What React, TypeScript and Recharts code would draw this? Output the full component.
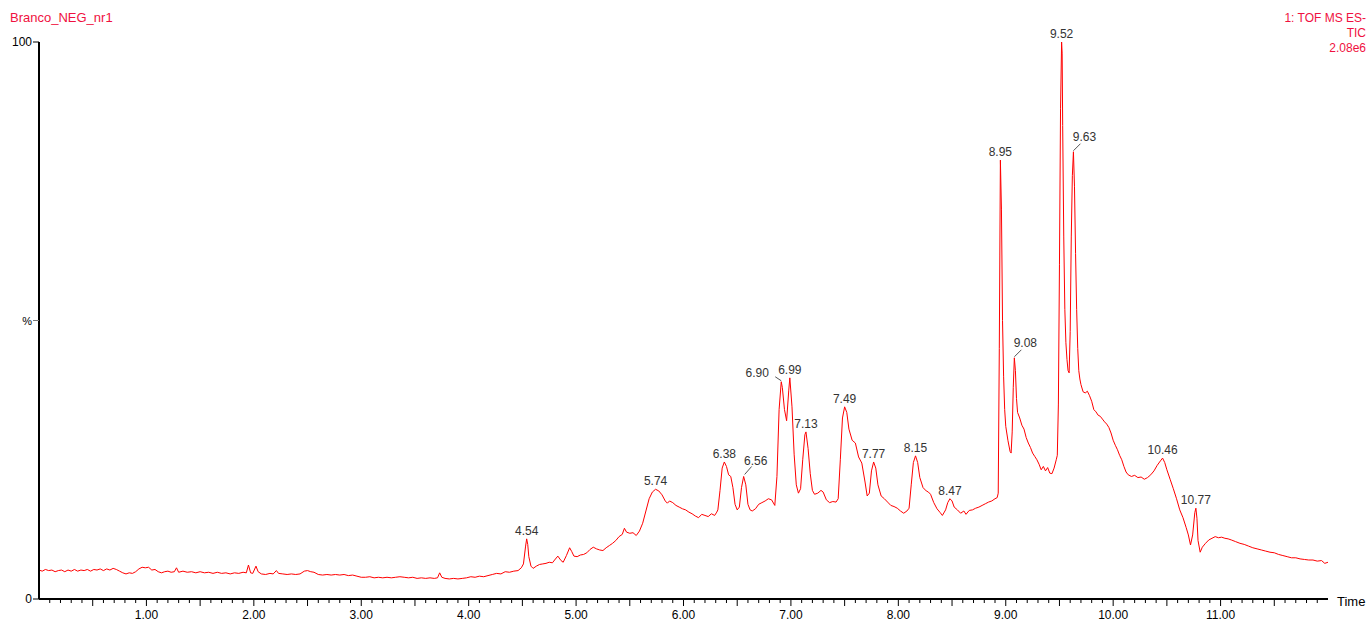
import React from 'react';
import { ComposedChart, Line, Scatter, XAxis, YAxis } from 'recharts';

const sampleName = 'Branco_NEG_nr1';
const traceInfo = ['1: TOF MS ES-', 'TIC', '2.08e6'];
const xAxisTitle = 'Time';
const yTicks = [0, 50, 100];
const yTickLabels: Record<number, string> = { 0: '0', 50: '%', 100: '100' };
const xMajorLabels = ['1.00', '2.00', '3.00', '4.00', '5.00', '6.00', '7.00', '8.00', '9.00', '10.00', '11.00'];

// TIC trace: [retention time (min), relative intensity (%)]
const tic: [number, number][] = [
  [0.00,5.2],[0.03,5.0],[0.06,5.3],[0.09,5.1],[0.12,5.2],[0.15,4.9],[0.18,5.1],[0.21,5.2],[0.24,4.9],[0.27,5.2],
  [0.30,5.0],[0.33,5.3],[0.36,5.0],[0.39,5.2],[0.42,5.1],[0.45,5.3],[0.48,5.0],[0.51,5.3],[0.54,5.2],[0.57,5.4],
  [0.60,5.1],[0.63,5.4],[0.66,5.2],[0.69,5.5],[0.72,5.3],[0.75,5.0],[0.78,4.7],[0.81,4.5],[0.84,4.7],[0.87,4.6],
  [0.90,4.9],[0.93,5.4],[0.96,5.7],[0.99,5.6],[1.02,5.7],[1.05,5.2],[1.08,5.3],[1.11,4.9],[1.14,4.7],[1.17,4.9],
  [1.20,5.0],[1.23,4.8],[1.26,4.9],[1.28,5.6],[1.30,4.8],[1.34,5.0],[1.38,4.8],[1.42,4.9],[1.46,4.7],[1.50,4.9],
  [1.54,4.7],[1.58,4.8],[1.62,4.6],[1.66,4.8],[1.70,4.6],[1.74,4.7],[1.78,4.5],[1.82,4.7],[1.86,4.6],[1.90,4.8],
  [1.93,4.7],[1.95,6.1],[1.97,4.7],[1.99,4.6],[2.02,5.9],[2.04,4.9],[2.07,4.5],[2.11,4.4],[2.15,4.6],[2.18,4.5],
  [2.21,5.1],[2.23,4.6],[2.27,4.5],[2.31,4.4],[2.35,4.5],[2.39,4.4],[2.43,4.5],[2.47,5.0],[2.50,5.1],[2.53,4.9],
  [2.56,4.8],[2.60,4.4],[2.64,4.3],[2.68,4.4],[2.72,4.3],[2.76,4.4],[2.80,4.3],[2.84,4.4],[2.88,4.2],[2.92,4.3],
  [2.96,4.1],[3.00,3.9],[3.04,3.9],[3.08,4.0],[3.12,3.8],[3.16,3.9],[3.20,3.8],[3.24,3.9],[3.28,3.8],[3.32,3.9],
  [3.36,4.0],[3.40,3.9],[3.44,3.8],[3.48,3.9],[3.52,3.7],[3.56,3.8],[3.60,3.7],[3.64,3.8],[3.68,3.7],[3.71,3.8],
  [3.73,4.7],[3.75,3.9],[3.78,3.7],[3.82,3.6],[3.86,3.7],[3.90,3.6],[3.94,3.7],[3.98,3.8],[4.02,4.0],[4.06,3.9],
  [4.10,4.1],[4.14,4.0],[4.18,4.2],[4.22,4.4],[4.26,4.6],[4.30,4.5],[4.34,4.9],[4.38,4.8],[4.42,5.0],[4.46,5.1],
  [4.49,5.6],[4.51,6.3],[4.53,9.5],[4.54,10.8],[4.55,9.8],[4.56,7.6],[4.58,5.9],[4.60,5.5],[4.63,5.9],[4.66,6.2],
  [4.69,6.3],[4.72,6.4],[4.75,6.6],[4.78,6.5],[4.80,7.0],[4.83,7.7],[4.86,6.9],[4.88,6.6],[4.91,7.8],[4.94,9.2],
  [4.96,8.5],[4.98,7.7],[5.01,7.6],[5.04,7.9],[5.07,8.0],[5.10,8.3],[5.13,8.9],[5.16,9.3],[5.19,9.0],[5.22,8.8],
  [5.25,8.7],[5.28,9.2],[5.31,9.6],[5.34,10.0],[5.37,10.5],[5.40,11.2],[5.43,11.6],[5.45,12.7],[5.47,12.0],[5.50,11.8],
  [5.53,11.9],[5.56,11.4],[5.59,12.2],[5.62,13.6],[5.65,15.8],[5.68,18.0],[5.71,19.2],[5.74,19.7],[5.77,19.4],[5.80,18.7],
  [5.83,17.6],[5.85,17.2],[5.87,17.6],[5.90,17.3],[5.93,16.8],[5.96,16.5],[5.99,16.2],[6.02,16.0],[6.05,15.6],[6.08,15.3],
  [6.11,14.9],[6.14,14.6],[6.17,15.2],[6.20,15.0],[6.23,14.8],[6.26,15.3],[6.29,15.0],[6.31,15.6],
  [6.32,16.0],[6.34,19.5],[6.36,23.5],[6.38,24.6],[6.40,23.8],[6.42,22.3],[6.44,22.0],[6.46,20.0],[6.48,17.0],[6.50,16.0],
  [6.52,16.5],[6.54,20.0],[6.56,22.0],[6.58,20.5],[6.60,17.0],[6.62,16.0],[6.64,15.8],[6.67,16.2],[6.70,17.0],[6.73,17.3],
  [6.76,17.6],[6.79,18.0],[6.82,17.8],[6.85,16.8],[6.87,22.0],[6.89,34.0],[6.91,39.0],[6.92,38.0],[6.94,34.0],[6.96,32.0],
  [6.98,37.5],[6.99,39.7],[7.01,34.5],[7.03,26.0],[7.05,20.5],[7.07,19.0],[7.09,19.8],[7.11,25.0],[7.13,29.5],[7.14,30.0],
  [7.16,27.0],[7.18,22.5],[7.20,19.5],[7.22,18.8],[7.25,19.0],[7.28,19.5],[7.30,19.2],[7.33,17.8],[7.36,17.3],[7.39,17.5],
  [7.42,17.4],[7.44,18.0],[7.46,25.0],[7.48,32.5],[7.50,34.5],[7.52,33.5],[7.54,30.5],[7.57,28.5],[7.60,28.0],[7.63,25.5],
  [7.66,24.4],[7.69,21.0],[7.71,18.5],[7.73,19.0],[7.75,23.0],[7.77,24.6],[7.79,23.5],[7.81,20.5],[7.84,18.5],[7.87,18.0],
  [7.90,17.4],[7.93,16.8],[7.96,16.6],[7.99,16.3],[8.02,15.8],[8.05,15.4],[8.08,15.8],[8.10,16.3],[8.12,20.5],[8.14,24.5],
  [8.16,25.7],[8.18,24.5],[8.20,21.8],[8.23,20.0],[8.26,19.4],[8.28,19.2],[8.30,18.8],[8.33,17.3],[8.36,16.2],[8.39,15.5],
  [8.41,15.0],[8.44,16.0],[8.46,17.3],[8.48,18.0],[8.50,17.6],[8.52,16.5],[8.55,16.0],[8.58,15.4],[8.61,15.8],[8.63,15.2],
  [8.66,15.9],[8.69,16.0],[8.72,16.3],[8.75,16.5],[8.78,16.8],[8.81,17.1],[8.84,17.4],[8.87,17.6],[8.90,18.0],[8.92,18.2],
  [8.93,19.0],[8.94,45.0],[8.95,78.8],[8.96,70.0],[8.97,50.0],[8.98,40.0],[8.99,34.0],[9.00,31.0],[9.02,28.5],[9.04,26.5],
  [9.05,26.2],[9.06,30.0],[9.07,38.0],[9.08,43.3],[9.09,41.0],[9.10,36.0],[9.11,33.5],[9.13,32.5],[9.15,31.2],[9.17,30.5],
  [9.19,29.0],[9.21,28.0],[9.23,27.2],[9.25,26.2],[9.27,25.6],[9.29,25.0],[9.31,24.2],[9.33,23.2],[9.35,23.8],[9.37,23.0],
  [9.39,23.6],[9.41,22.6],[9.43,22.5],[9.45,23.5],[9.47,25.0],[9.48,25.8],[9.49,35.0],[9.50,60.0],[9.51,88.0],[9.52,100.0],
  [9.525,98.0],[9.53,85.0],[9.54,65.0],[9.55,52.0],[9.56,46.0],[9.57,43.0],[9.58,41.0],[9.59,40.6],[9.60,48.0],[9.61,65.0],
  [9.62,76.0],[9.63,80.3],[9.64,74.0],[9.65,62.0],[9.66,52.0],[9.67,45.0],[9.68,41.0],[9.69,39.5],[9.70,38.5],[9.72,37.2],
  [9.74,37.0],[9.76,37.3],[9.78,36.5],[9.80,35.5],[9.82,34.0],[9.84,33.6],[9.86,33.0],[9.88,32.8],[9.90,32.3],[9.92,31.8],
  [9.94,31.4],[9.96,30.8],[9.98,29.8],[10.00,28.5],[10.02,27.6],[10.04,26.8],[10.06,25.8],[10.08,25.0],[10.10,23.8],[10.12,22.8],
  [10.14,22.3],[10.17,22.0],[10.20,22.2],[10.23,21.8],[10.26,21.9],[10.29,21.5],[10.32,21.8],[10.35,22.3],[10.38,23.0],[10.41,24.0],
  [10.44,24.8],[10.46,25.3],[10.48,24.5],[10.50,23.2],[10.53,21.5],[10.56,19.8],[10.59,18.0],[10.62,16.0],[10.65,14.6],[10.68,12.8],
  [10.70,11.5],[10.72,9.7],[10.74,11.5],[10.76,15.5],[10.77,16.3],[10.78,14.5],[10.79,10.5],[10.81,8.4],[10.83,9.3],[10.86,10.0],
  [10.89,10.6],[10.92,10.9],[10.95,11.2],[10.98,11.0],[11.01,11.1],[11.04,10.9],[11.07,10.8],[11.10,10.6],[11.14,10.3],[11.18,10.0],
  [11.22,9.8],[11.26,9.5],[11.30,9.2],[11.34,9.0],[11.38,8.8],[11.42,8.6],[11.46,8.4],[11.50,8.3],[11.54,8.0],[11.58,7.8],
  [11.62,7.6],[11.66,7.4],[11.70,7.4],[11.74,7.2],[11.78,7.1],[11.82,7.0],[11.86,7.0],[11.90,6.8],[11.94,6.9],[11.97,6.4],
  [12.00,6.6],
];

const peakTimes = [4.54, 5.74, 6.38, 6.56, 6.90, 6.99, 7.13, 7.49, 7.77, 8.15, 8.47, 8.95, 9.08, 9.52, 9.63, 10.46, 10.77];
const peakLabels = ['4.54', '5.74', '6.38', '6.56', '6.90', '6.99', '7.13', '7.49', '7.77', '8.15', '8.47', '8.95', '9.08', '9.52', '9.63', '10.46', '10.77'];

// label placement styles (offsets in px from the peak apex)
const labelStyle: Record<string, { dx: number; dy: number; leader?: [number, number, number, number] }> = {
  '6.56': { dx: 12, dy: -16, leader: [1, -2, 8, -10] },
  '6.90': { dx: -24, dy: -9, leader: [-6, -5, 0, -1] },
  '9.08': { dx: 11, dy: -15, leader: [0, -1, 7, -8] },
  '9.63': { dx: 11, dy: -15, leader: [0, -1, 7, -8] },
};

const FONT = "'Liberation Sans', Arial, sans-serif";
const RED = '#ff0000';
const HEAD_RED = '#f01040';

const chartData = tic.map(([t, v]) => ({ t, v }));

const peakData = peakTimes.map((pt, i) => {
  let best = { t: pt, v: 0 };
  for (const d of chartData) {
    if (Math.abs(d.t - pt) <= 0.0151 && d.v > best.v) best = d;
  }
  return { t: best.t, v: best.v, label: peakLabels[i] };
});

const xTicks = Array.from({ length: 119 }, (_, i) => (i + 1) / 10);

const XTick = (props: any) => {
  const { x, y, payload } = props;
  const r = Math.round(payload.value * 10);
  const isMajor = r % 10 === 0;
  const isHalf = r % 5 === 0;
  const len = isHalf ? 7 : 4;
  return (
    <g>
      <line x1={x} x2={x} y1={y} y2={y + len} stroke="#000" strokeWidth={1} />
      {isMajor && (
        <text x={x} y={y + 20} textAnchor="middle" fontSize={12} fill="#000" fontFamily={FONT}>
          {xMajorLabels[r / 10 - 1]}
        </text>
      )}
    </g>
  );
};

const YTick = (props: any) => {
  const { x, y, payload } = props;
  const v = payload.value;
  const isPct = v === 50;
  return (
    <g>
      <line x1={x - 6} x2={x} y1={y} y2={y} stroke={isPct ? '#777' : '#000'} strokeWidth={1} />
      <text x={x - 7} y={y + 4} textAnchor="end" fontSize={isPct ? 11 : 12} fill="#000" fontFamily={FONT}>
        {yTickLabels[v]}
      </text>
    </g>
  );
};

const PeakLabel = (props: any) => {
  const { cx, cy, payload } = props;
  if (cx == null || cy == null) return <g />;
  const st = labelStyle[payload.label] || { dx: 0, dy: -8.5 };
  return (
    <g>
      {st.leader && (
        <line
          x1={cx + st.leader[0]}
          y1={cy + st.leader[1]}
          x2={cx + st.leader[2]}
          y2={cy + st.leader[3]}
          stroke="#555"
          strokeWidth={1}
        />
      )}
      <text x={cx + st.dx} y={cy + st.dy + 4.3} textAnchor="middle" fontSize={12} fill="#333" fontFamily={FONT}>
        {payload.label}
      </text>
    </g>
  );
};

export default function App() {
  return (
    <div style={{ position: 'absolute', left: 0, top: 0, width: 1367, height: 621, background: '#fff', fontFamily: FONT }}>
      <ComposedChart width={1367} height={621} margin={{ top: 42, right: 39, bottom: 0, left: 0 }}>
        <XAxis
          dataKey="t"
          type="number"
          domain={[0, 12]}
          allowDataOverflow
          ticks={xTicks}
          interval={0}
          tickSize={0}
          tickMargin={0}
          tickLine={false}
          tick={<XTick />}
          height={22}
          axisLine={{ stroke: '#000', strokeWidth: 2 }}
        />
        <YAxis
          dataKey="v"
          type="number"
          domain={[0, 100]}
          ticks={yTicks}
          interval={0}
          width={39}
          tickSize={0}
          tickMargin={0}
          tickLine={false}
          tick={<YTick />}
          axisLine={{ stroke: '#000', strokeWidth: 2 }}
        />
        <Line
          data={chartData}
          dataKey="v"
          type="linear"
          stroke={RED}
          strokeWidth={1}
          dot={false}
          activeDot={false}
          isAnimationActive={false}
        />
        <Scatter data={peakData} dataKey="v" shape={<PeakLabel />} isAnimationActive={false} />
      </ComposedChart>
      <div style={{ position: 'absolute', left: 10, top: 10, fontSize: 13, lineHeight: '16px', color: HEAD_RED }}>
        {sampleName}
      </div>
      <div style={{ position: 'absolute', right: 1, top: 11, fontSize: 12, lineHeight: '15px', color: HEAD_RED, textAlign: 'right' }}>
        {traceInfo.map((s) => (
          <div key={s}>{s}</div>
        ))}
      </div>
      <div style={{ position: 'absolute', left: 1337, top: 594, fontSize: 13, lineHeight: '16px', color: '#000' }}>
        {xAxisTitle}
      </div>
    </div>
  );
}
